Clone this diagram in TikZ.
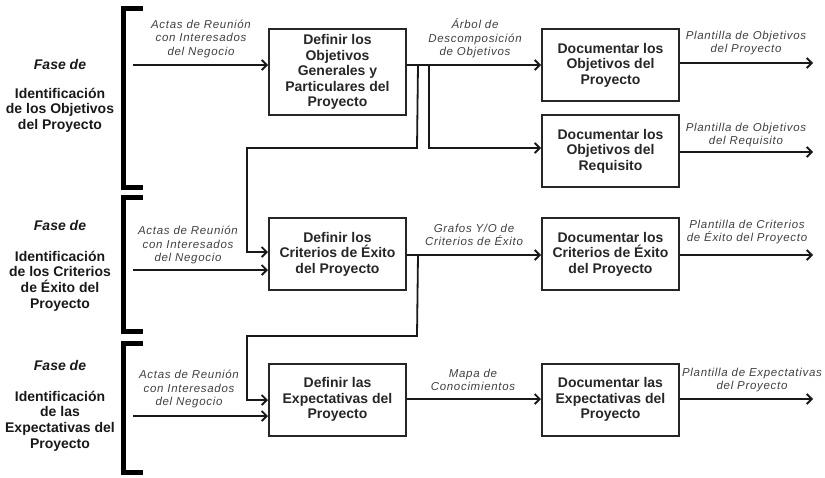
\documentclass[tikz,border=0pt]{standalone}
\usepackage{fontspec}
\setmainfont{Liberation Sans}
\newfontfamily\labfont[LetterSpace=6]{Liberation Sans}
\usetikzlibrary{arrows.meta}
\begin{document}
\begin{tikzpicture}[x=1pt,y=-1pt,
  box/.style={draw=black!85, line width=2pt, minimum width=137pt, minimum height=#1,
    inner sep=2pt, align=center, font=\bfseries\fontsize{14}{15.5}\selectfont, text=black!85},
  box/.default=72pt,
  arr/.style={draw=black!90, line width=1.8pt, -{Straight Barb[length=5pt,width=10pt]}},
  lab/.style={align=center, inner sep=0pt, text=black!75,
    font=\labfont\itshape\fontsize{11.5}{13.5}\selectfont},
  phase/.style={align=center, inner sep=0pt, text=black!90,
    font=\bfseries\fontsize{14}{15.6}\selectfont},
  fase/.style={inner sep=0pt, text=black!90, font=\bfseries\itshape\fontsize{14}{15.6}\selectfont},
  brk/.style={draw=black, line width=5pt}
]
\useasboundingbox (0,0) rectangle (825,477);

% brackets
\draw[brk] (143,8) -- (123,8) -- (123,187) -- (143,187);
\draw[brk] (143,197) -- (123,197) -- (123,331) -- (143,331);
\draw[brk] (143,343) -- (123,343) -- (123,472) -- (143,472);

% phase texts
\node[fase] (f1) at (60,64) {Fase de};
\node[phase] (p1) at (60,110) {Identificación\\de los Objetivos\\del Proyecto};
\node[fase] (f2) at (60,225) {Fase de};
\node[phase] (p2) at (60,281) {Identificación\\de los Criterios\\de Éxito del\\Proyecto};
\node[fase] (f3) at (60,365) {Fase de};
\node[phase] (p3) at (60,421) {Identificación\\de las\\Expectativas del\\Proyecto};

% boxes
\node[box=86pt] (A) at (337.5,72) {Definir los\\Objetivos\\Generales y\\Particulares del\\Proyecto};
\node[box] (B) at (610.5,65) {Documentar los\\Objetivos del\\Proyecto};
\node[box] (C) at (610.5,151) {Documentar los\\Objetivos del\\Requisito};
\node[box] (D) at (337.5,254) {Definir los\\Criterios de Éxito\\del Proyecto};
\node[box] (E) at (610.5,254) {Documentar los\\Criterios de Éxito\\del Proyecto};
\node[box] (F) at (337.5,399.5) {Definir las\\Expectativas del\\Proyecto};
\node[box] (G) at (610.5,399.5) {Documentar las\\Expectativas del\\Proyecto};

% helper coordinates
\coordinate (in1) at (133,65);
\coordinate (in2) at (133,270);
\coordinate (in3) at (133,416);
\coordinate (yAB) at (0,65);
\coordinate (yC) at (0,148);
\coordinate (yD) at (0,252);
\coordinate (yDE) at (0,255);
\coordinate (yF) at (0,400);
\coordinate (yFG) at (0,399);
\coordinate (o1) at (813,63);
\coordinate (o2) at (813,152);
\coordinate (o3) at (813,255);
\coordinate (o4) at (813,399);
\coordinate (fb1a) at (417,148);
\coordinate (fb1b) at (247,148);
\coordinate (fb2a) at (417,336);
\coordinate (fb2b) at (247,336);

% inputs
\draw[arr] (in1) -- (A.west |- in1);
\draw[arr] (in2) -- (D.west |- in2);
\draw[arr] (in3) -- (F.west |- in3);

% main flows
\draw[arr] (A.east |- yAB) -- (B.west |- yAB);
\draw[arr] (A.east |- yAB) -- ++(22,0) |- (C.west |- yC);
\draw[arr] (A.east |- yAB) -- ++(11,0) -- (fb1a) -- (fb1b) |- (D.west |- yD);
\draw[arr] (D.east |- yDE) -- (E.west |- yDE);
\draw[arr] (D.east |- yDE) -- ++(11,0) -- (fb2a) -- (fb2b) |- (F.west |- yF);
\draw[arr] (F.east |- yFG) -- (G.west |- yFG);

% outputs
\draw[arr] (B.east |- o1) -- (o1);
\draw[arr] (C.east |- o2) -- (o2);
\draw[arr] (E.east |- o3) -- (o3);
\draw[arr] (G.east |- o4) -- (o4);

% labels
\node[lab] (l1) at (201,38.5) {Actas de Reunión\\con Interesados\\del Negocio};
\node[lab] (l2) at (188,245) {Actas de Reunión\\con Interesados\\del Negocio};
\node[lab] (l3) at (189,389) {Actas de Reunión\\con Interesados\\del Negocio};
\node[lab] (lab1) at (475,38.5) {Árbol de\\Descomposición\\de Objetivos};
\node[lab] (lab2) at (474,235) {Grafos Y/O de\\Criterios de Éxito};
\node[lab] (lab3) at (473,380) {Mapa de\\Conocimientos};
\node[lab] (lo1) at (746,43) {Plantilla de Objetivos\\del Proyecto};
\node[lab] (lo2) at (746,135) {Plantilla de Objetivos\\del Requisito};
\node[lab] (lo3) at (747,232) {Plantilla de Criterios\\de Éxito del Proyecto};
\node[lab] (lo4) at (752,380) {Plantilla de Expectativas\\del Proyecto};
\end{tikzpicture}
\end{document}
